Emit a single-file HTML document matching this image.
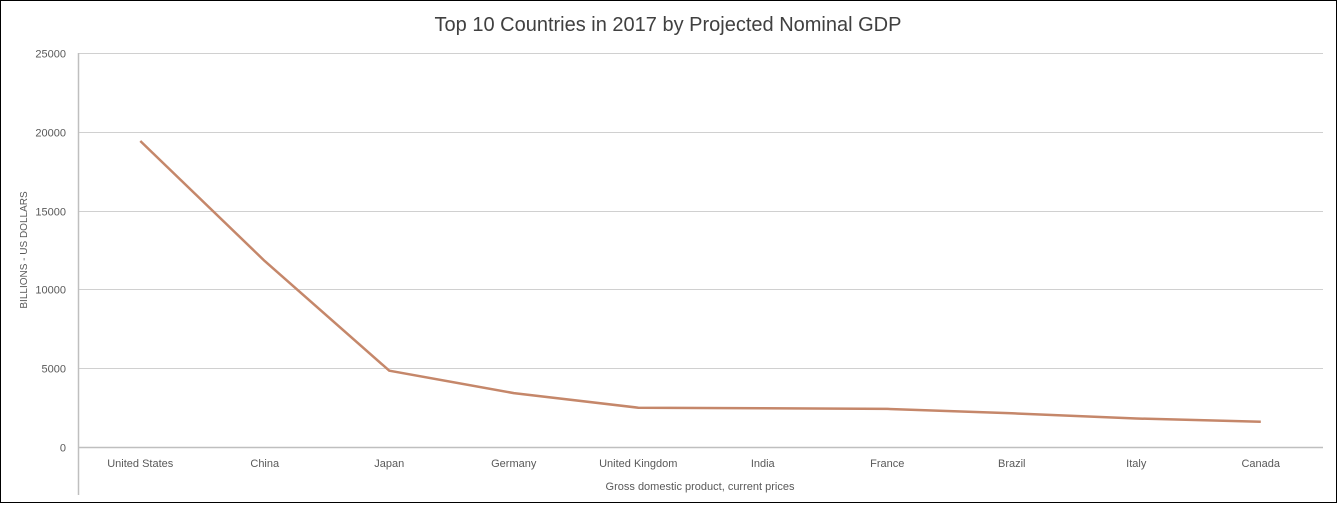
<!DOCTYPE html>
<html><head><meta charset="utf-8"><style>
html,body{margin:0;padding:0;background:#fff;}
svg{display:block;font-family:"Liberation Sans",sans-serif;}
</style></head><body>
<svg id="chart" width="1339" height="505">
<rect x="0.5" y="0.5" width="1336" height="502" fill="#fff" stroke="#000" stroke-width="1"/>
<text x="668" y="31" text-anchor="middle" font-size="20" fill="#404040">Top 10 Countries in 2017 by Projected Nominal GDP</text>
<text transform="translate(27,250) rotate(-90)" text-anchor="middle" font-size="10" fill="#595959">BILLIONS - US DOLLARS</text>
<text x="700" y="490" text-anchor="middle" font-size="11" fill="#595959">Gross domestic product, current prices</text>
<g id="grid"></g><g id="ticks"></g><g id="series"></g>
</svg>
<script>
const categories=["United States","China","Japan","Germany","United Kingdom","India","France","Brazil","Italy","Canada"];
const gdpValues=[19417,11795,4841,3423,2496,2454,2420,2140,1807,1600];
const yTicks=[0,5000,10000,15000,20000,25000];
const NS="http://www.w3.org/2000/svg";
const L=78,R=1323,T=53,B=447,yMax=25000;
const xs=i=>L+(R-L)/categories.length*(i+0.5);
const ys=v=>B-(B-T)*v/yMax;
function mk(tag,attrs,parent){const e=document.createElementNS(NS,tag);for(const k in attrs)e.setAttribute(k,attrs[k]);parent.appendChild(e);return e;}
const grid=document.getElementById('grid'),ticks=document.getElementById('ticks'),series=document.getElementById('series');
yTicks.forEach(v=>{
  const y=Math.round(ys(v))+0.5;
  const ln=mk('line',{x1:L,x2:R,y1:y,y2:y,stroke:v===0?'#bfbfbf':'#d0d0d0','stroke-width':v===0?1.5:1},grid);
  
  
  const t=mk('text',{x:66,y:y+4,'text-anchor':'end','font-size':11,fill:'#595959'},ticks);
  t.textContent=v;
  
  
});
const ax=mk('line',{x1:L+0.5,x2:L+0.5,y1:T,y2:495,stroke:'#bfbfbf','stroke-width':1.5},grid);


categories.forEach((c,i)=>{
  const t=mk('text',{x:xs(i),y:467,'text-anchor':'middle','font-size':11,fill:'#595959'},ticks);
  t.textContent=c;
  
  
});
const pts=gdpValues.map((v,i)=>xs(i).toFixed(1)+','+ys(v).toFixed(1)).join(' ');
const pl=mk('polyline',{points:pts,fill:'none',stroke:'#c5876a','stroke-width':2.5,'stroke-linejoin':'round'},series);


</script>
</body></html>
